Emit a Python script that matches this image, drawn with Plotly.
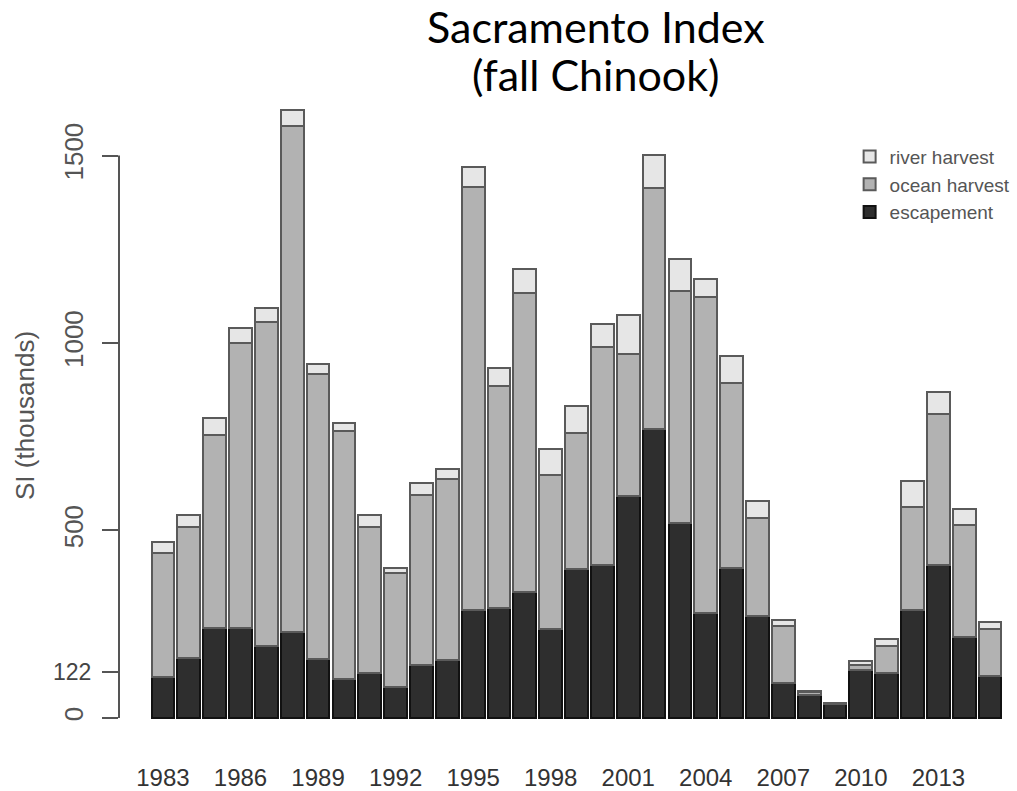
import plotly.graph_objects as go

years = list(range(1983, 2016))
escapement = [108, 161, 241, 241, 193, 230, 156, 103, 119, 82, 140, 155, 287, 293, 337, 238, 397, 407,
              591, 770, 521, 280, 401, 272, 94, 62, 38, 129, 119, 287, 407, 216, 112]
ocean_harvest = [333, 349, 513, 759, 862, 1349, 762, 662, 391, 305, 455, 481, 1130, 592, 796, 411, 363, 582,
                 381, 644, 617, 843, 492, 260, 151, 6, 2, 12, 74, 276, 403, 298, 124]
river_harvest = [27, 32, 47, 39, 38, 43, 26, 21, 32, 12, 32, 27, 53, 49, 65, 68, 73, 63,
                 104, 88, 85, 47, 71, 46, 17, 4, 1, 11, 17, 68, 58, 42, 21]
xtick_years = list(range(1983, 2014, 3))
ytick_vals = [0, 122, 500, 1000, 1500]
ytick_text = ["0", "", "500", "1000", "1500"]

W, H = 1017, 791
L, R, T, B = 119, 7, 100, 51  # plot area pixels
NARROW = "Liberation Sans Narrow, Arial Narrow, Liberation Sans, Arial, sans-serif"

fig = go.Figure()
series = [
    ("escapement", escapement, "#2e2e2e", "#111111", 3),
    ("ocean harvest", ocean_harvest, "#b2b2b2", "#5a5a5a", 2),
    ("river harvest", river_harvest, "#e6e6e6", "#5a5a5a", 1),
]
for name, vals, col, edge, rank in series:
    fig.add_trace(go.Bar(x=years, y=vals, name=name, width=0.88, legendgroup=name, legendrank=rank,
                         marker=dict(color=col, line=dict(color=edge, width=2))))

fig.update_layout(
    width=W, height=H,
    barmode="stack",
    plot_bgcolor="white", paper_bgcolor="white",
    margin=dict(l=L, r=R, t=T, b=B, autoexpand=False),
    font=dict(family=NARROW, color="#444444"),
    legend=dict(x=0.820, y=0.941, xanchor="left", yanchor="top", traceorder="grouped",
                font=dict(size=19, color="#555555"), bgcolor="rgba(0,0,0,0)",
                itemwidth=30, tracegroupgap=0),
    showlegend=True,
)
fig.update_xaxes(range=[1981.30, 2015.77], tickvals=xtick_years, showgrid=False, zeroline=False,
                 showline=False, ticks="outside", ticklen=16, tickcolor="rgba(0,0,0,0)",
                 tickfont=dict(size=24, color="#333333"), automargin=False)
fig.update_yaxes(range=[-58.7, 1648], tickvals=ytick_vals, ticktext=ytick_text, tickangle=-90,
                 showgrid=False, zeroline=False, showline=False, ticks="outside", ticklen=16,
                 tickwidth=2, tickcolor="#555555", tickfont=dict(size=26, color="#555555"),
                 ticklabelstandoff=9, automargin=False)
fig.add_shape(type="line", xref="paper", x0=0, x1=0, yref="y", y0=0, y1=1500,
              line=dict(color="#555555", width=2))
fig.add_annotation(text="122", xref="paper", x=0, xanchor="center", xshift=-47, yref="y", y=122,
                   showarrow=False, font=dict(size=23, color="#444444"))
fig.add_annotation(text="SI (thousands)", xref="paper", x=0, xanchor="center", xshift=-94,
                   yref="paper", y=1 - (416 - T) / (H - T - B), yanchor="middle", textangle=-90,
                   showarrow=False, font=dict(size=26, color="#555555"))
fig.add_annotation(text="Sacramento Index", xref="paper", x=0.535, xanchor="center",
                   yref="paper", y=1, yanchor="middle", yshift=74, showarrow=False,
                   font=dict(family="Lato, Open Sans, sans-serif", size=43, color="#000000"))
fig.add_annotation(text="(fall Chinook)", xref="paper", x=0.535, xanchor="center",
                   yref="paper", y=1, yanchor="middle", yshift=26, showarrow=False,
                   font=dict(family="Lato, Open Sans, sans-serif", size=43, color="#000000"))
fig.write_html("out.html", config={"displayModeBar": False},
               post_script="document.body.style.margin='0px';")
